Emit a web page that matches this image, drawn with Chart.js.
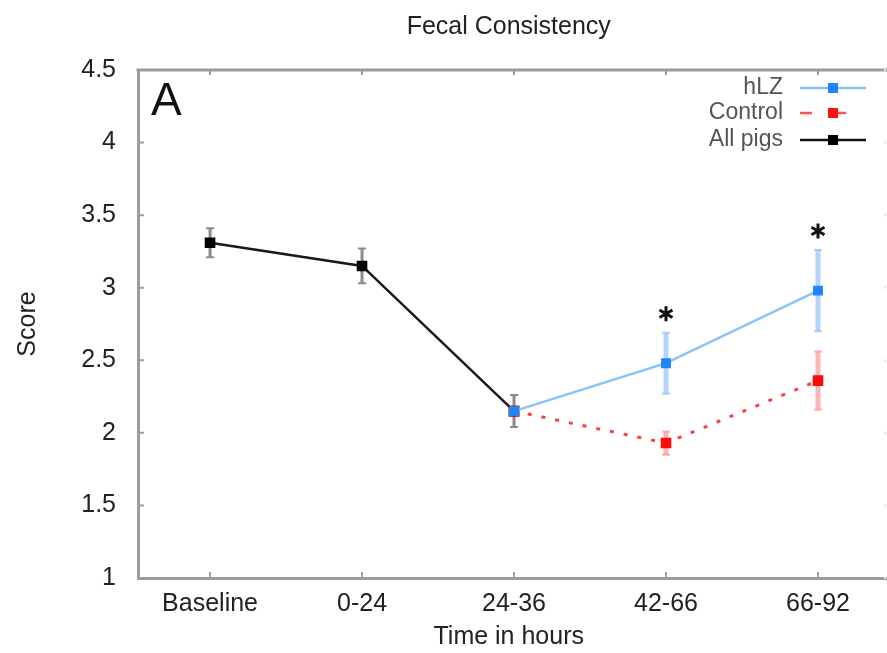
<!DOCTYPE html>
<html>
<head>
<meta charset="utf-8">
<script src="https://cdn.jsdelivr.net/npm/chart.js@4.4.0/dist/chart.umd.min.js"></script>
<style>
  html, body { margin: 0; padding: 0; background: #fff; }
  #wrap { width: 887px; height: 653px; }
</style>
</head>
<body>
<div id="wrap"><canvas id="myChart" width="887" height="653"></canvas></div>
<script>
// time points
var labels = ["Baseline", "0-24", "24-36", "42-66", "66-92"];

// mean scores
var allPigs = [3.31, 3.15, 2.15, null, null];
var allPigsErr = [0.10, 0.12, 0.11, null, null];
var hlz = [null, null, 2.15, 2.48, 2.98];
var hlzErr = [null, null, null, 0.21, 0.28];
var control = [null, null, 2.15, 1.93, 2.36];
var controlErr = [null, null, null, 0.08, 0.20];

// time points with a significant difference
var starred = [3, 4];

var yTicks = [1, 1.5, 2, 2.5, 3, 3.5, 4, 4.5];

var FONT = "'Liberation Sans', Arial, sans-serif";
var AXIS_GREY = '#9c9c9c';
var X_MIN = -0.474, X_MAX_AT_EDGE = 4.454;

function toPoints(arr) {
    var pts = [];
    for (var i = 0; i < arr.length; i++) {
        if (arr[i] != null) pts.push({x: i, y: arr[i]});
    }
    return pts;
}

// error bars, frame bits, legend, panel letter and asterisks
var extras = {
    id: 'extras',
    beforeDatasetsDraw: function(chart) {
        var c = chart.ctx;
        var xs = chart.scales.x, ys = chart.scales.y;
        var sets = [
            {vals: hlz, err: hlzErr, color: 'rgba(120,180,250,0.55)', w: 5},
            {vals: control, err: controlErr, color: 'rgba(255,120,120,0.55)', w: 5},
            {vals: allPigs, err: allPigsErr, color: '#8a8a8a', w: 3}
        ];
        c.save();
        sets.forEach(function(s) {
            for (var i = 0; i < s.vals.length; i++) {
                if (s.vals[i] == null || s.err[i] == null) continue;
                var x = xs.getPixelForValue(i);
                var y1 = ys.getPixelForValue(s.vals[i] + s.err[i]);
                var y2 = ys.getPixelForValue(s.vals[i] - s.err[i]);
                c.strokeStyle = s.color;
                c.lineWidth = s.w;
                c.beginPath();
                c.moveTo(x, y1); c.lineTo(x, y2);
                c.stroke();
                c.lineWidth = 2;
                c.beginPath();
                c.moveTo(x - 4, y1); c.lineTo(x + 4, y1);
                c.moveTo(x - 4, y2); c.lineTo(x + 4, y2);
                c.stroke();
            }
        });
        c.restore();
    },
    afterDraw: function(chart) {
        var c = chart.ctx;
        var a = chart.chartArea;
        var xs = chart.scales.x, ys = chart.scales.y;
        var edge = chart.width;
        c.save();

        // top frame line, bottom axis carried on to the edge
        c.strokeStyle = AXIS_GREY;
        c.lineWidth = 3;
        c.beginPath();
        c.moveTo(a.left - 1.5, a.top);
        c.lineTo(edge, a.top);
        c.moveTo(a.right - 1, a.bottom + 0.5);
        c.lineTo(edge, a.bottom + 0.5);
        c.stroke();

        // small inward ticks
        c.lineWidth = 2;
        c.beginPath();
        for (var i = 0; i < labels.length; i++) {
            var x = xs.getPixelForValue(i);
            c.moveTo(x, a.bottom - 1); c.lineTo(x, a.bottom - 6);
            c.moveTo(x, a.top + 1); c.lineTo(x, a.top + 5);
        }
        yTicks.forEach(function(v) {
            var y = ys.getPixelForValue(v);
            if (v === 1 || v === 4.5) return;
            c.moveTo(a.left + 1, y); c.lineTo(a.left + 6, y);
        });
        c.stroke();
        c.strokeStyle = '#e2e2e2';
        c.beginPath();
        yTicks.forEach(function(v) {
            var y = ys.getPixelForValue(v);
            c.moveTo(edge - 1, y); c.lineTo(edge - 3, y);
        });
        c.stroke();

        // panel letter
        c.fillStyle = '#111';
        c.font = '46px ' + FONT;
        c.textAlign = 'left';
        c.textBaseline = 'alphabetic';
        c.fillText('A', 151, 115);

        // legend
        var legend = [
            {text: 'hLZ', line: '#8cc2f8', dash: [], mark: '#1e86ff', y: 88},
            {text: 'Control', line: '#ff5050', dash: [12, 22], mark: '#ff1010', y: 113},
            {text: 'All pigs', line: '#111', dash: [], mark: '#000', y: 140}
        ];
        c.font = '23px ' + FONT;
        c.textAlign = 'right';
        c.textBaseline = 'middle';
        legend.forEach(function(l) {
            c.fillStyle = '#555';
            c.fillText(l.text, 783, l.y);
            c.strokeStyle = l.line;
            c.lineWidth = 2.5;
            c.setLineDash(l.dash);
            c.beginPath();
            c.moveTo(800, l.y); c.lineTo(866, l.y);
            c.stroke();
            c.setLineDash([]);
            c.fillStyle = l.mark;
            c.fillRect(828, l.y - 5, 10, 10);
        });

        // asterisks above the hLZ error bars
        c.strokeStyle = '#111';
        c.lineWidth = 3;
        starred.forEach(function(i) {
            var x = xs.getPixelForValue(i);
            var y = ys.getPixelForValue(hlz[i] + hlzErr[i]) - 19;
            var r = 7.5;
            c.beginPath();
            for (var k = 0; k < 3; k++) {
                var ang = Math.PI / 2 + k * Math.PI / 3;
                c.moveTo(x + r * Math.cos(ang), y + r * Math.sin(ang));
                c.lineTo(x - r * Math.cos(ang), y - r * Math.sin(ang));
            }
            c.stroke();
        });

        c.restore();
    }
};

var ctx = document.getElementById('myChart').getContext('2d');
var chart = new Chart(ctx, {
    type: 'line',
    data: {
        datasets: [
            {
                label: 'hLZ',
                data: toPoints(hlz),
                borderColor: '#8cc2f8',
                borderWidth: 2.5,
                pointStyle: 'rect',
                pointRadius: 7,
                pointBackgroundColor: '#1e86ff',
                pointBorderWidth: 0
            },
            {
                label: 'Control',
                data: toPoints(control),
                borderColor: '#ff4040',
                borderWidth: 3,
                borderDash: [4, 10],
                pointStyle: 'rect',
                pointRadius: 7.5,
                pointBackgroundColor: '#ff0a0a',
                pointBorderWidth: 0
            },
            {
                label: 'All pigs',
                data: toPoints(allPigs),
                borderColor: '#1a1a1a',
                borderWidth: 2.5,
                pointStyle: 'rect',
                pointRadius: 7.5,
                pointBackgroundColor: '#000',
                pointBorderWidth: 0
            }
        ]
    },
    options: {
        responsive: false,
        animation: false,
        layout: {padding: {left: 0, right: 0, top: 0, bottom: 0}},
        plugins: {
            legend: {display: false},
            tooltip: {enabled: false},
            title: {
                display: true,
                text: 'Fecal Consistency',
                fullSize: false,
                color: '#222',
                font: {family: FONT, size: 25, weight: 'normal'},
                padding: {top: 12, bottom: 28}
            }
        },
        scales: {
            x: {
                type: 'linear',
                min: X_MIN,
                max: X_MAX_AT_EDGE,
                afterBuildTicks: function(scale) {
                    scale.ticks = labels.map(function(l, i) { return {value: i}; });
                },
                afterFit: function(scale) {
                    scale.height = 75;
                    scale.paddingLeft = 0;
                    scale.paddingRight = 0;
                },
                ticks: {
                    callback: function(v) { return labels[v]; },
                    color: '#222',
                    padding: 11,
                    maxRotation: 0,
                    autoSkip: false,
                    font: {family: FONT, size: 25}
                },
                grid: {display: false, drawTicks: false},
                border: {display: true, color: AXIS_GREY, width: 3},
                title: {
                    display: true,
                    text: 'Time in hours',
                    color: '#222',
                    font: {family: FONT, size: 25},
                    padding: {top: 0, bottom: 1}
                }
            },
            y: {
                min: 1,
                max: 4.5,
                afterBuildTicks: function(scale) {
                    scale.ticks = yTicks.map(function(v) { return {value: v}; });
                },
                afterFit: function(scale) { scale.width = 138; },
                ticks: {
                    callback: function(v) { return String(v); },
                    color: '#222',
                    padding: 22,
                    font: {family: FONT, size: 25}
                },
                grid: {display: false, drawTicks: false},
                border: {display: true, color: AXIS_GREY, width: 3},
                title: {
                    display: true,
                    text: 'Score',
                    color: '#222',
                    font: {family: FONT, size: 25},
                    padding: {top: 13, bottom: 0}
                }
            }
        }
    },
    plugins: [extras]
});

// the plot runs off the right edge of the figure: stretch the x range so the
// category spacing matches the part that is cut off
var area = chart.chartArea;
chart.options.scales.x.max = X_MIN + (X_MAX_AT_EDGE - X_MIN) * (area.right - area.left) / (chart.width - area.left);
chart.update();
</script>
</body>
</html>
